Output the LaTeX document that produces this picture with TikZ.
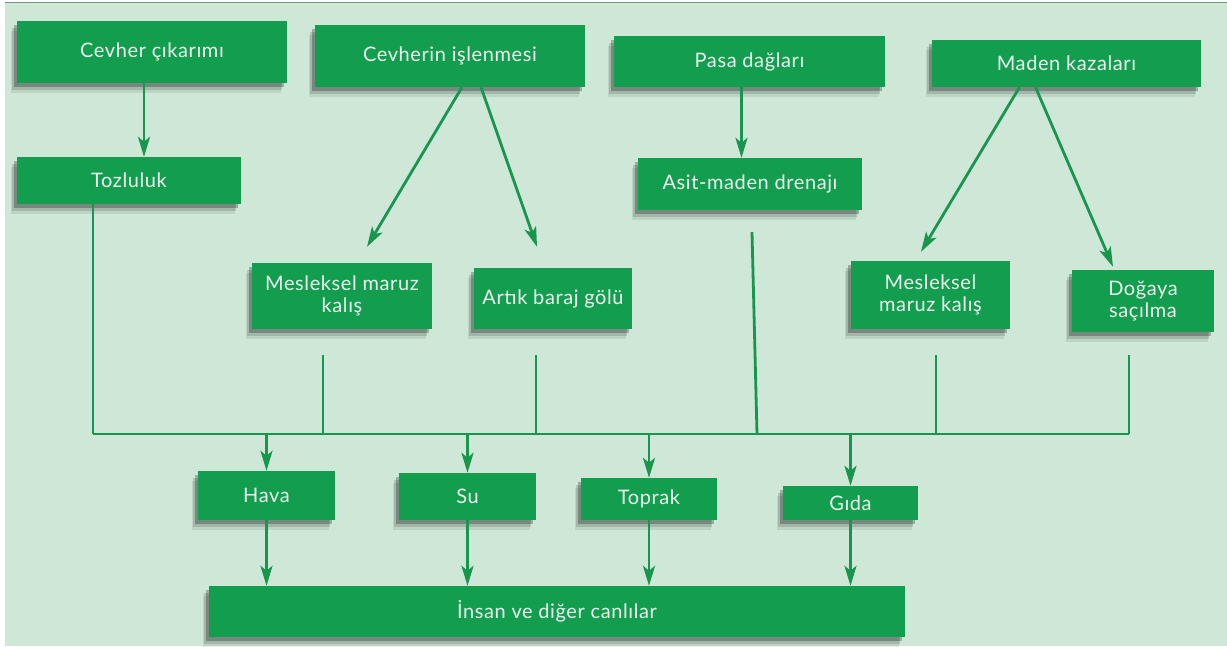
\documentclass[tikz,border=0pt]{standalone}
\usepackage{fontspec}
\setmainfont{Lato}[LetterSpace=3]
\usetikzlibrary{arrows.meta, shadows}
\definecolor{bggreen}{RGB}{206,231,214}
\definecolor{boxgreen}{RGB}{18,158,78}
\definecolor{linegreen}{RGB}{24,150,78}
\definecolor{rulegreen}{RGB}{112,150,128}
\definecolor{textwhite}{RGB}{236,246,239}
\tikzset{
  kutu/.style={fill=boxgreen, text=textwhite, inner sep=0pt, align=center,
    font=\fontsize{20}{22}\selectfont,
    drop shadow={shadow xshift=-6pt, shadow yshift=-10pt, opacity=.08, fill=black},
    drop shadow={shadow xshift=-5pt, shadow yshift=-7pt, opacity=.14, fill=black},
    drop shadow={shadow xshift=-3pt, shadow yshift=-4pt, opacity=.25, fill=black}},
  hat/.style={draw=linegreen, line width=2.8pt},
  ok/.style={hat, -{Stealth[length=20pt, width=12pt, inset=5pt]}}}

\begin{document}
\begin{tikzpicture}[x=1pt, y=-1pt]
\useasboundingbox (0,0) rectangle (1227,646);
\fill[white] (0,0) rectangle (1227,646);
\fill[bggreen] (5,3) rectangle (1227,646);
\draw[rulegreen, line width=1.5pt] (5,2.5) -- (1227,2.5);

\node[kutu, minimum width=270pt, minimum height=62pt] (cikarim) at (152,52) {Cevher çıkarımı};
\node[kutu, minimum width=270pt, minimum height=62pt] (isleme) at (450,56) {Cevherin işlenmesi};
\node[kutu, minimum width=271pt, minimum height=51pt] (pasa) at (749.5,61.5) {Pasa dağları};
\node[kutu, minimum width=269pt, minimum height=47pt] (kaza) at (1066.5,63.5) {Maden kazaları};
\node[kutu, minimum width=224pt, minimum height=47pt] (toz) at (129,180.5) {Tozluluk};
\node[kutu, minimum width=224pt, minimum height=52pt] (asit) at (750,184) {Asit-maden drenajı};
\node[kutu, minimum width=180pt, minimum height=66pt] (meslekA) at (342,296) {Mesleksel maruz\\kalış};
\node[kutu, minimum width=158pt, minimum height=61pt] (artik) at (553,298.5) {Artık baraj gölü};
\node[kutu, minimum width=159pt, minimum height=68pt] (meslekB) at (930.5,295) {Mesleksel\\maruz kalış};
\node[kutu, minimum width=142pt, minimum height=62pt] (dogaya) at (1143,301) {Doğaya\\saçılma};
\node[kutu, minimum width=137pt, minimum height=49pt] (hava) at (266.5,495.5) {Hava};
\node[kutu, minimum width=137pt, minimum height=47pt] (su) at (467.5,496.5) {Su};
\node[kutu, minimum width=136pt, minimum height=42pt] (toprak) at (649,499) {Toprak};
\node[kutu, minimum width=135pt, minimum height=34pt] (gida) at (850.5,503) {Gıda};
\node[kutu, minimum width=696pt, minimum height=51pt] (insan) at (557,611.5) {İnsan ve diğer canlılar};

\coordinate (busW) at (93,434);
\coordinate (busE) at (1129,434);

\draw[ok] ([xshift=-8pt]cikarim.south) coordinate (c1) -- (c1 |- toz.north);
\draw[ok] ([xshift=-8pt]pasa.south) coordinate (p1) -- (p1 |- asit.north);
\draw[ok] ([xshift=12pt]isleme.south) -- ([xshift=25pt,yshift=16pt]meslekA.north);
\draw[ok] ([xshift=31pt]isleme.south) -- ([xshift=-16pt,yshift=21pt]artik.north);
\draw[ok] ([xshift=-47pt]kaza.south) -- ([xshift=-9.5pt,yshift=9pt]meslekB.north);
\draw[ok] ([xshift=-31pt]kaza.south) -- ([xshift=-30pt,yshift=3pt]dogaya.north);

\draw[hat] (busW) -- (busE);
\draw[hat] ([xshift=-36pt]toz.south) -- (busW);
\draw[hat] ([xshift=-19pt,yshift=-26pt]meslekA.south) coordinate (m1) -- (m1 |- busW);
\draw[hat] ([xshift=-17pt,yshift=-26pt]artik.south) coordinate (m2) -- (m2 |- busW);
\draw[hat] ([xshift=2pt,yshift=-22pt]asit.south) coordinate (m3) -- ([xshift=5pt]m3 |- busW);
\draw[hat] ([xshift=5.5pt,yshift=-26pt]meslekB.south) coordinate (m4) -- (m4 |- busW);
\draw[hat] ([xshift=-14pt,yshift=-23pt]dogaya.south) coordinate (m5) -- (busE);

\foreach \n in {hava, su, toprak, gida}{
  \draw[ok] (\n |- busW) -- (\n.north);
  \draw[ok] (\n.south) -- (\n.south |- insan.north);
}
\end{tikzpicture}
\end{document}
